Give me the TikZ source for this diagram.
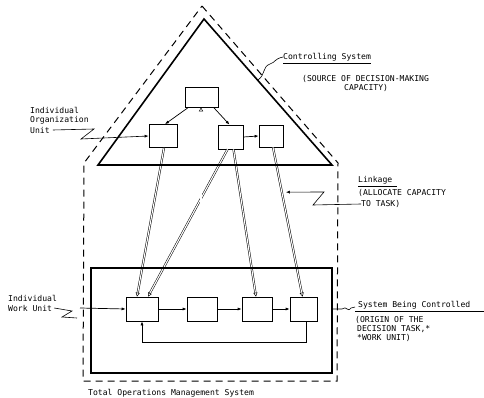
\documentclass[tikz,border=0pt]{standalone}
\usepackage{fontspec}
\newfontfamily\labelfont{DejaVu Sans Mono}
\usetikzlibrary{arrows.meta,calc}
\begin{document}
\begin{tikzpicture}[x=1pt,y=-1pt,
  box/.style={draw,line width=0.7pt,minimum width=#1,minimum height=22pt,inner sep=0pt},
  lbl/.style={anchor=west,inner sep=0pt,font=\fontsize{8.1}{9}\labelfont},
  frame/.style={line width=1.6pt},
  outline/.style={line width=1pt,dash pattern=on 7pt off 5pt},
  flow/.style={line width=0.7pt,-{Latex[length=4pt,width=3pt]}},
  link/.style={line width=0.5pt,double,double distance=1.1pt,-{Triangle[open,length=4pt,width=4pt]}},
  call/.style={line width=0.6pt}]
\useasboundingbox (0,0) rectangle (484,398);

% boxes of the controlling system
\node[box=33pt,minimum height=20pt] (T) at (201.5,97) {};
\node[box=28pt,minimum height=23pt] (L) at (163,136) {};
\node[box=25pt,minimum height=24pt] (M) at (230.5,137) {};
\node[box=24pt,minimum height=22pt] (R) at (271,136) {};
% boxes of the controlled system
\node[box=32pt,minimum height=24pt] (B1) at (142,309) {};
\node[box=30pt,minimum height=24pt] (B2) at (202,309) {};
\node[box=30pt,minimum height=24pt] (B3) at (257,309) {};
\node[box=27pt,minimum height=24pt] (B4) at (303.5,309) {};

% linkages (drawn first so the frames cross over them)
\draw[link] ([xshift=1pt]L.south) -- ([xshift=-5pt]B1.north);
\draw[link] ([xshift=-3pt]M.south) -- ([xshift=6pt]B1.north);
\draw[link] ([xshift=3pt]M.south) -- ([xshift=-1pt]B3.north);
\draw[link] ([xshift=2pt]R.south) -- ([xshift=-1pt]B4.north);
\draw[link] ([xshift=-1pt]B2.north) -- ([xshift=-0.5pt]T.south);

% outer dashed outline (total system)
\draw[outline] (202,6) -- (338,163) -- (337,381) -- (83,381) -- (84,163) -- cycle;
% controlling system triangle
\draw[frame,line join=miter] (204,19) -- (332,165) -- (98,165) -- cycle;
% system being controlled rectangle
\draw[frame] (91,268) rectangle (332,373);

% flows within the controlling system
\draw[flow] ([xshift=-13pt]T.south) -- ([xshift=2pt]L.north);
\draw[flow] ([xshift=12pt]T.south) -- ([xshift=-1pt]M.north);
\draw[flow] (M.east) -- (R.west);

% flows within the controlled system
\draw[flow] (B1.east) -- (B2.west);
\draw[flow] (B2.east) -- (B3.west);
\draw[flow] (B3.east) -- (B4.west);
\draw[flow] ([xshift=2.5pt]B4.south) -- ++(0,21) -| (B1.south);

% labels
\node[lbl] (ctrl) at (283,57) {Controlling System};
\draw[line width=1pt] ([yshift=-2pt]ctrl.south west) -- ([yshift=-2pt]ctrl.south east);
\draw[call] (258,80) .. controls (266,74) and (262,67) .. (270,64) .. controls (276,62) and (274,59) .. (ctrl.west);
\node[lbl] (src1) at (302,79) {(SOURCE OF DECISION-MAKING};
\node[lbl] (src2) at (344,88) {CAPACITY)};

\node[lbl] (iou1) at (30,110) {Individual};
\node[lbl] (iou2) at (30,120) {Organization};
\node[lbl] (iou3) at (30,130) {Unit};
\coordinate (u1) at (94,129);
\coordinate (u2) at (81,139);
\draw[call,-{Latex[length=4pt,width=3pt]}] ([xshift=3pt]iou3.east) -- (u1) -- (u2) -- (L.west);

\node[lbl] (lk1) at (358,180) {Linkage};
\draw[line width=0.8pt] ([yshift=-2pt]lk1.south west) -- ([yshift=-2pt,xshift=4pt]lk1.south east);
\node[lbl] (lk2) at (358,193) {(ALLOCATE CAPACITY};
\node[lbl] (lk3) at (361,204) {TO TASK)};
\coordinate (k1) at (324,192);
\coordinate (k2) at (313,205);
\coordinate (kt) at ($([xshift=2pt]R.south)!0.3!([xshift=-1pt]B4.north)$);
\draw[call,-{Latex[length=4pt,width=3pt]}] (lk3.west) -- (k2) -- (k1) -- ([xshift=4pt]kt);

\node[lbl] (wu1) at (8,298) {Individual};
\node[lbl] (wu2) at (8,308) {Work Unit};
\coordinate (w1) at (72,311);
\coordinate (w2) at (62,317);
\coordinate (w3) at (77,318);
\coordinate (w4) at (80,308);
\draw[call] ([xshift=2pt]wu2.east) -- (w1) -- (w2) -- (w3);
\draw[flow] (w4) -- (B1.west);

\node[lbl] (sys1) at (358,305) {System Being Controlled};
\draw[line width=1pt] (355,311) -- (484,311);
\coordinate (s1) at (342,309);
\draw[call] (332,309) -- (s1) .. controls (347,305) and (347,313) .. (351,308) -- (355,307);
\node[lbl] (sys2) at (355,320) {(ORIGIN OF THE};
\node[lbl] (sys3) at (357,329) {DECISION TASK,*};
\node[lbl] (sys4) at (357,338) {*WORK UNIT)};

\node[lbl] (tot) at (88,393) {Total Operations Management System};
\end{tikzpicture}
\end{document}
